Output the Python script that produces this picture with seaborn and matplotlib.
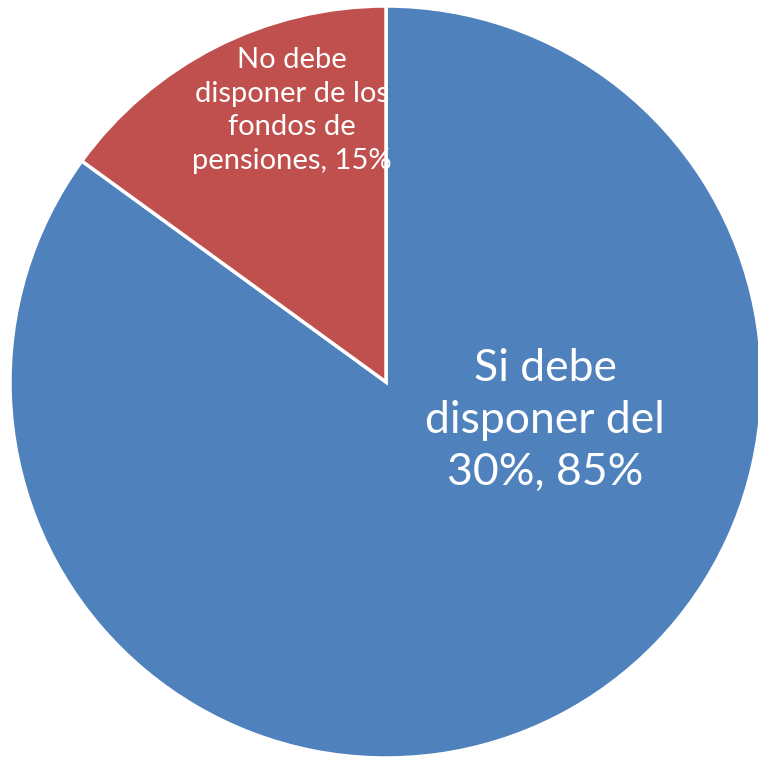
import matplotlib
matplotlib.use("Agg")
import matplotlib.pyplot as plt
import seaborn as sns

categories = ["Si debe\ndisponer del\n30%", "No debe\ndisponer de los\nfondos de\npensiones"]
values = [85, 15]
colors = ["#4F81BD", "#C0504D"]

sns.set_theme(style="white")
plt.rcParams['font.family'] = ['Lato', 'DejaVu Sans']

fig = plt.figure(figsize=(7.58, 7.59), dpi=100)
ax = fig.add_axes([0, 0, 1, 1])
wedges, _ = ax.pie(values, colors=colors, startangle=90, counterclock=False,
                   radius=1, center=(0, 0),
                   wedgeprops=dict(edgecolor="white", linewidth=2.5))
ax.set_aspect('auto')
ax.set_xlim(-386/376, (758-386)/376)
ax.set_ylim(-(759-382)/376, 382/376)
ax.axis('off')

ax.text(0.423, -0.103, f"{categories[0]}, {values[0]}%", ha='center', va='center',
        color='white', fontsize=32, linespacing=1.33)
ax.text(-0.25, 0.722, f"{categories[1]}, {values[1]}%", ha='center', va='center',
        color='white', fontsize=21, linespacing=1.37)

fig.savefig("out.png", dpi=100, facecolor='white')
